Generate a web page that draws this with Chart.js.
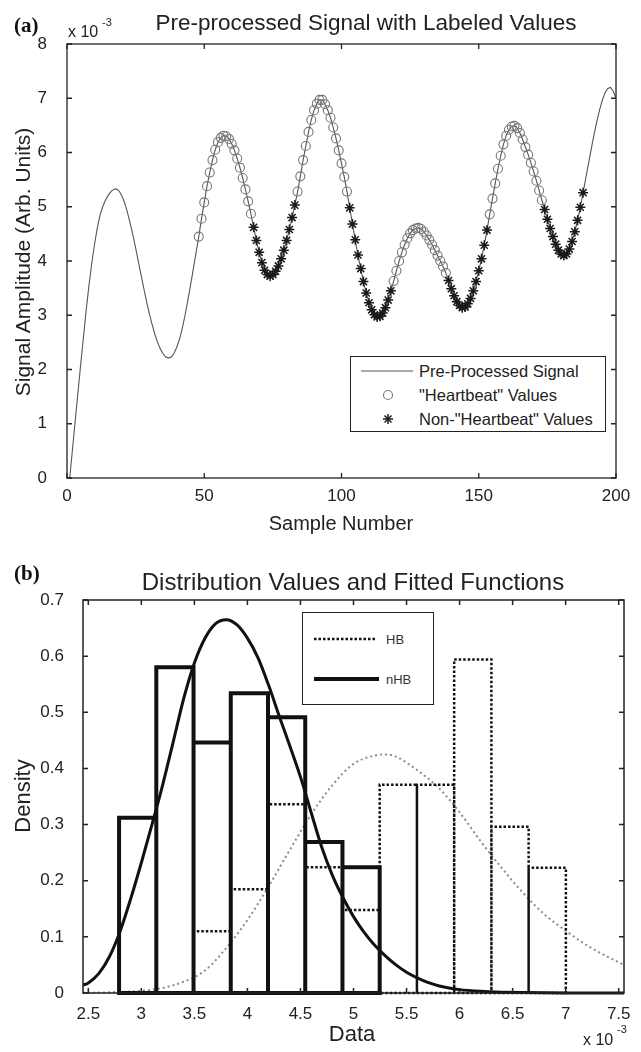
<!DOCTYPE html>
<html><head><meta charset="utf-8">
<script src="https://cdn.jsdelivr.net/npm/chart.js@4.4.1/dist/chart.umd.min.js"></script>
<style>
html,body{margin:0;padding:0;background:#fff;}
body{width:641px;height:1052px;position:relative;overflow:hidden;font-family:"Liberation Sans",Arial,Helvetica,sans-serif;color:#222;}
canvas{position:absolute;left:0;}
.t{position:absolute;white-space:nowrap;line-height:1;transform:translate(-50%,-50%);}
.l{position:absolute;white-space:nowrap;line-height:1;transform:translate(0,-50%);}
.v{position:absolute;white-space:nowrap;line-height:1;transform:translate(-50%,-50%) rotate(-90deg);}
.panel{position:absolute;font-family:"Liberation Serif","Times New Roman",serif;font-weight:bold;font-size:21px;line-height:1;transform:translate(0,-50%);color:#111;}
.leg{position:absolute;border:1px solid #222;background:#fff;box-sizing:border-box;}
.leg svg{position:absolute;left:0;top:0;}
</style></head><body>
<canvas id="ca" width="641" height="540" style="top:0"></canvas>
<canvas id="cb" width="641" height="512" style="top:540px"></canvas>

<div class="panel" style="left:14px;top:25px">(a)</div>
<div class="t" style="left:366px;top:23px;font-size:22.5px">Pre-processed Signal with Labeled Values</div>
<div class="l" style="left:68px;top:32px;font-size:16px">x 10</div>
<div class="l" style="left:102px;top:22px;font-size:11px">-3</div>
<div class="v" style="left:22px;top:262px;font-size:21px">Signal Amplitude (Arb. Units)</div>
<div class="t" style="left:341px;top:523px;font-size:20px">Sample Number</div>

<div class="leg" style="left:350px;top:356px;width:256px;height:76px">
  <svg width="256" height="76">
    <line x1="10" y1="14" x2="62" y2="14" stroke="#555" stroke-width="1"/>
    <circle cx="37" cy="38" r="4.5" fill="none" stroke="#777" stroke-width="1.1"/>
    <g stroke="#1a1a1a" stroke-width="1.5">
      <line x1="37" y1="57" x2="37" y2="67"/><line x1="32" y1="62" x2="42" y2="62"/>
      <line x1="33.5" y1="58.5" x2="40.5" y2="65.5"/><line x1="33.5" y1="65.5" x2="40.5" y2="58.5"/>
    </g>
  </svg>
  <div class="l" style="left:68px;top:14px;font-size:16.5px">Pre-Processed Signal</div>
  <div class="l" style="left:68px;top:38px;font-size:16.5px">"Heartbeat" Values</div>
  <div class="l" style="left:68px;top:62px;font-size:16.5px">Non-"Heartbeat" Values</div>
</div>

<div class="panel" style="left:14px;top:573px">(b)</div>
<div class="t" style="left:353px;top:582px;font-size:24px">Distribution Values and Fitted Functions</div>
<div class="v" style="left:23px;top:796px;font-size:22px">Density</div>
<div class="t" style="left:352px;top:1034px;font-size:22px">Data</div>
<div class="l" style="left:583px;top:1040px;font-size:16px">x 10</div>
<div class="l" style="left:617px;top:1029px;font-size:11px">-3</div>

<div class="leg" style="left:302px;top:612px;width:132px;height:93px">
  <svg width="132" height="93">
    <line x1="11" y1="26" x2="73" y2="26" stroke="#111" stroke-width="2.5" stroke-dasharray="2.5 2"/>
    <line x1="11" y1="66" x2="76" y2="66" stroke="#111" stroke-width="4"/>
  </svg>
  <div class="l" style="left:83px;top:26px;font-size:13px;color:#333">HB</div>
  <div class="l" style="left:83px;top:66px;font-size:13px;color:#333">nHB</div>
</div>

<script>
// ---------- Panel (a) data ----------
const sampleSignal = [
  0.00, 0.53, 1.06, 1.58, 2.10, 2.60, 3.10, 3.55, 3.95, 4.30,
  4.60, 4.84, 5.00, 5.12, 5.21, 5.28, 5.32, 5.33, 5.29, 5.20,
  5.07, 4.90, 4.70, 4.48, 4.24, 3.99, 3.74, 3.49, 3.25, 3.03,
  2.83, 2.65, 2.50, 2.38, 2.29, 2.23, 2.21, 2.23, 2.30, 2.41,
  2.56, 2.76, 3.00, 3.27, 3.55, 3.85, 4.15, 4.45, 4.78, 5.08,
  5.38, 5.63, 5.86, 6.05, 6.19, 6.27, 6.31, 6.30, 6.25, 6.16,
  6.04, 5.89, 5.72, 5.53, 5.32, 5.10, 4.87, 4.62, 4.38, 4.16,
  3.97, 3.83, 3.75, 3.72, 3.75, 3.81, 3.91, 4.04, 4.20, 4.38,
  4.58, 4.80, 5.03, 5.28, 5.56, 5.86, 6.12, 6.38, 6.60, 6.78,
  6.90, 6.97, 6.97, 6.89, 6.78, 6.64, 6.46, 6.26, 6.04, 5.80,
  5.55, 5.28, 4.98, 4.68, 4.39, 4.11, 3.86, 3.62, 3.41, 3.23,
  3.10, 3.01, 2.97, 2.98, 3.04, 3.14, 3.28, 3.45, 3.63, 3.82,
  4.00, 4.16, 4.30, 4.42, 4.51, 4.57, 4.60, 4.61, 4.59, 4.54,
  4.47, 4.39, 4.30, 4.20, 4.10, 4.00, 3.90, 3.78, 3.64, 3.49,
  3.36, 3.25, 3.18, 3.14, 3.15, 3.21, 3.31, 3.45, 3.62, 3.82,
  4.04, 4.29, 4.57, 4.86, 5.15, 5.43, 5.70, 5.94, 6.15, 6.31,
  6.42, 6.48, 6.49, 6.45, 6.36, 6.24, 6.10, 5.96, 5.81, 5.65,
  5.48, 5.30, 5.12, 4.95, 4.77, 4.60, 4.45, 4.31, 4.20, 4.13,
  4.10, 4.13, 4.22, 4.36, 4.54, 4.75, 4.99, 5.26, 5.53, 5.80,
  6.07, 6.33, 6.57, 6.78, 6.96, 7.10, 7.18, 7.20, 7.13, 7.00
];
const heartbeatRanges = [[48,67],[84,102],[119,138],[154,173]];
const nonHeartbeatRanges = [[68,83],[103,118],[139,153],[174,188]];
const xTicksA = [0, 50, 100, 150, 200];
const yTicksA = [0, 1, 2, 3, 4, 5, 6, 7, 8];

// ---------- Panel (b) data (x in units of 1e-3) ----------
const binEdges = [2.790, 3.141, 3.492, 3.843, 4.194, 4.545, 4.896, 5.247, 5.598, 5.949, 6.300, 6.651, 7.002];
const nhbDensity = [0.312, 0.580, 0.446, 0.534, 0.491, 0.269, 0.224];
const hbDensity = [0, 0, 0.110, 0.185, 0.336, 0.224, 0.148, 0.371, 0.371, 0.594, 0.296, 0.223];
const nhbFitX = [2.45,2.5,2.6,2.7,2.8,2.9,3.0,3.1,3.2,3.3,3.4,3.5,3.6,3.7,3.8,3.9,4.0,4.1,4.2,4.3,4.4,4.5,4.6,4.7,4.8,4.9,5.0,5.1,5.2,5.3,5.4,5.5,5.6,5.7,5.8,5.9,6.0,6.2,6.4,6.6,6.8,7.0,7.55];
const nhbFitY = [0.014,0.018,0.035,0.065,0.110,0.168,0.232,0.300,0.370,0.447,0.525,0.588,0.632,0.658,0.665,0.656,0.632,0.597,0.548,0.493,0.440,0.385,0.322,0.260,0.210,0.170,0.136,0.108,0.085,0.066,0.050,0.037,0.027,0.019,0.013,0.009,0.006,0.003,0.0015,0.0007,0.0003,0.0001,0];
const hbFitX = [2.45,2.6,2.8,3.0,3.2,3.4,3.6,3.8,4.0,4.2,4.4,4.6,4.8,5.0,5.2,5.3,5.4,5.6,5.8,6.0,6.2,6.4,6.6,6.8,7.0,7.2,7.4,7.55];
const hbFitY = [0.0003,0.0008,0.002,0.004,0.009,0.020,0.040,0.080,0.130,0.190,0.255,0.318,0.370,0.408,0.423,0.425,0.421,0.397,0.366,0.322,0.270,0.222,0.178,0.140,0.111,0.085,0.064,0.050];
const xTicksB = [2.5, 3, 3.5, 4, 4.5, 5, 5.5, 6, 6.5, 7, 7.5];
const yTicksB = [0, 0.1, 0.2, 0.3, 0.4, 0.5, 0.6, 0.7];

// ---------- helpers ----------
Chart.defaults.font.family = '"Liberation Sans", Arial, Helvetica, sans-serif';
Chart.defaults.color = '#222';

function pick(ranges) {
  const pts = [];
  ranges.forEach(([a, b]) => { for (let s = a; s <= b; s++) pts.push({x: s, y: sampleSignal[s - 1]}); });
  return pts;
}
function outline(edges, heights) {
  const pts = [{x: edges[0], y: 0}];
  heights.forEach((h, i) => { pts.push({x: edges[i], y: h}, {x: edges[i + 1], y: h}, {x: edges[i + 1], y: 0}); });
  pts.push({x: edges[0], y: 0});
  return pts;
}
function zip(xs, ys) { return xs.map((x, i) => ({x: x, y: ys[i]})); }

const frameTicks = {
  id: 'frameTicks',
  afterDatasetsDraw(chart, args, opts) {
    const ctx = chart.ctx, a = chart.chartArea, x = chart.scales.x, y = chart.scales.y;
    ctx.save();
    ctx.strokeStyle = opts.color; ctx.lineWidth = opts.width;
    ctx.strokeRect(a.left, a.top, a.right - a.left, a.bottom - a.top);
    ctx.beginPath();
    const L = opts.len;
    x.ticks.forEach(t => { const p = x.getPixelForValue(t.value);
      ctx.moveTo(p, a.bottom); ctx.lineTo(p, a.bottom - L);
      ctx.moveTo(p, a.top); ctx.lineTo(p, a.top + L); });
    y.ticks.forEach(t => { const p = y.getPixelForValue(t.value);
      ctx.moveTo(a.left, p); ctx.lineTo(a.left + L, p);
      ctx.moveTo(a.right, p); ctx.lineTo(a.right - L, p); });
    ctx.stroke();
    ctx.restore();
  }
};

// ---------- Chart (a) ----------
new Chart(document.getElementById('ca'), {
  type: 'scatter',
  data: { datasets: [
    { label: 'Non-"Heartbeat" Values', data: pick(nonHeartbeatRanges), showLine: false,
      pointStyle: 'star', pointRadius: 5, borderColor: '#1a1a1a', backgroundColor: '#1a1a1a', borderWidth: 1.5 },
    { label: '"Heartbeat" Values', data: pick(heartbeatRanges), showLine: false,
      pointStyle: 'circle', pointRadius: 4.5, borderColor: '#777', backgroundColor: 'rgba(0,0,0,0)', borderWidth: 1.1 },
    { label: 'Pre-Processed Signal', data: sampleSignal.map((v, i) => ({x: i + 1, y: v})), showLine: true,
      pointRadius: 0, borderColor: '#555', borderWidth: 1.1, tension: 0, clip: 2 }
  ]},
  options: {
    responsive: false, animation: false, devicePixelRatio: 1,
    layout: { padding: { left: 0, top: 44, right: 25, bottom: 0 } },
    plugins: { legend: { display: false }, tooltip: { enabled: false },
      frameTicks: { color: '#222', width: 1.3, len: 5 } },
    scales: {
      x: { type: 'linear', min: 0, max: 200, grid: { display: false }, border: { display: false },
        afterBuildTicks: s => { s.ticks = xTicksA.map(v => ({value: v})); },
        afterFit: s => { s.height = 62; },
        ticks: { font: { size: 17 }, color: '#222', padding: 0, maxRotation: 0, autoSkip: false } },
      y: { type: 'linear', min: 0, max: 8, grid: { display: false }, border: { display: false },
        afterBuildTicks: s => { s.ticks = yTicksA.map(v => ({value: v})); },
        afterFit: s => { s.width = 67; },
        ticks: { font: { size: 17 }, color: '#222', padding: 12, autoSkip: false } }
    }
  },
  plugins: [frameTicks]
});

// ---------- Chart (b) ----------
new Chart(document.getElementById('cb'), {
  type: 'scatter',
  data: { datasets: [
    { label: 'nHB', data: outline(binEdges, nhbDensity), showLine: true, pointRadius: 0,
      borderColor: '#111', borderWidth: 4, borderJoinStyle: 'miter', borderCapStyle: 'square', clip: 3 },
    { label: 'nHB fit', data: zip(nhbFitX, nhbFitY), showLine: true, pointRadius: 0,
      borderColor: '#111', borderWidth: 3, cubicInterpolationMode: 'monotone', clip: 2 },
    { label: 'HB', data: outline(binEdges, hbDensity), showLine: true, pointRadius: 0,
      borderColor: '#111', borderWidth: 2.5, borderDash: [2.5, 2], borderJoinStyle: 'miter', clip: 2 },
    { label: 'HB fit', data: zip(hbFitX, hbFitY), showLine: true, pointRadius: 0,
      borderColor: '#8c8c8c', borderWidth: 2, borderDash: [2, 3], cubicInterpolationMode: 'monotone', clip: 1 }
  ]},
  options: {
    responsive: false, animation: false, devicePixelRatio: 1,
    layout: { padding: { left: 0, top: 60, right: 17, bottom: 0 } },
    plugins: { legend: { display: false }, tooltip: { enabled: false },
      frameTicks: { color: '#222', width: 1.5, len: 5 } },
    scales: {
      x: { type: 'linear', min: 2.45, max: 7.55, grid: { display: false }, border: { display: false },
        afterBuildTicks: s => { s.ticks = xTicksB.map(v => ({value: v})); },
        afterFit: s => { s.height = 59; },
        ticks: { font: { size: 17 }, color: '#222', padding: 3, maxRotation: 0, autoSkip: false,
          callback: v => String(v) } },
      y: { type: 'linear', min: 0, max: 0.7, grid: { display: false }, border: { display: false },
        afterBuildTicks: s => { s.ticks = yTicksB.map(v => ({value: v})); },
        afterFit: s => { s.width = 83; },
        ticks: { font: { size: 17 }, color: '#222', padding: 11, autoSkip: false,
          callback: v => String(v) } }
    }
  },
  plugins: [frameTicks]
});
</script>
</body></html>
